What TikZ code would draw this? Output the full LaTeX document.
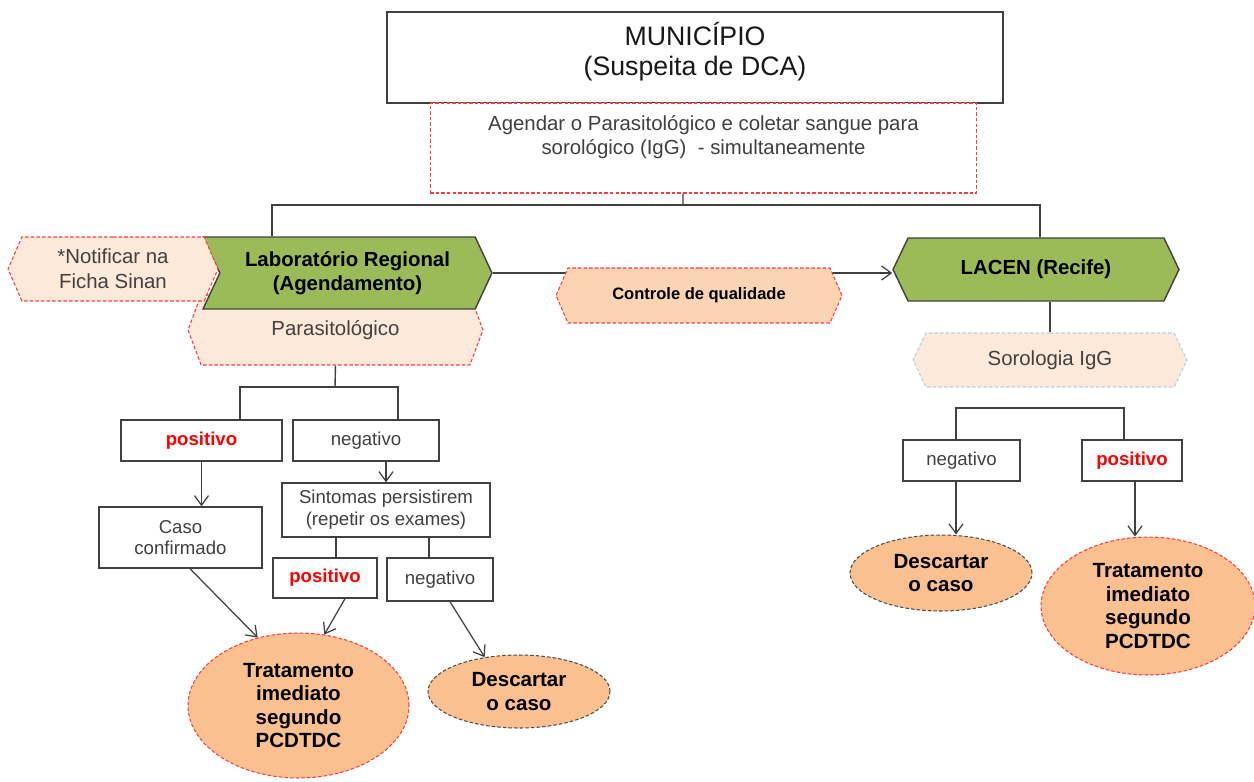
\documentclass[tikz,border=0pt]{standalone}
\usepackage{fontspec}
\setmainfont{Liberation Sans}
\usetikzlibrary{shapes.geometric, shapes.symbols, arrows.meta}

\definecolor{verde}{HTML}{9BBB59}
\definecolor{rosa}{HTML}{FDE9D9}
\definecolor{pessego}{HTML}{FBD4B4}
\definecolor{laranja}{HTML}{FAC090}
\definecolor{cinza}{HTML}{404040}
\definecolor{tracejado}{HTML}{FF3B3B}
\definecolor{azulclaro}{HTML}{B9CDE5}

\begin{document}
\begin{tikzpicture}[x=0.02cm, y=-0.02cm,
    box/.style={draw=black!75, line width=0.8pt, fill=white, text=cinza, align=center, inner sep=0pt, font=\fontsize{10.6}{12.4}\selectfont},
    hexa/.style={shape=signal, signal to=west and east, draw=tracejado, line width=0.6pt, dash pattern=on 2pt off 1.2pt, fill=rosa, text=cinza, align=center, inner sep=0pt, font=\fontsize{11.6}{14}\selectfont},
    lab/.style={shape=signal, draw=black!75, line width=0.8pt, fill=verde, align=center, inner sep=0pt, font=\bfseries\fontsize{11.6}{14}\selectfont},
    oval/.style={ellipse, fill=laranja, line width=0.6pt, dash pattern=on 2pt off 1.2pt, align=center, inner sep=0pt, font=\bfseries\fontsize{11.7}{13.4}\selectfont},
    posit/.style={text=red, font=\bfseries\fontsize{10.6}{12.4}\selectfont},
    arr/.style={-{Straight Barb[length=5.5pt, width=8pt]}, draw=black!75, line width=0.7pt},
    conn/.style={draw=black!75, line width=0.8pt},
]
\useasboundingbox (0,0) rectangle (1254,781);

\node[box, text=black!90, text depth=10pt, minimum width=12.32cm, minimum height=1.82cm, font=\fontsize{15.2}{17}\selectfont] (muni) at (695,57.5) {MUNICÍPIO\\(Suspeita de DCA)};
\node[box, draw=tracejado, line width=0.6pt, dash pattern=on 2pt off 1.2pt, text depth=14.5pt, minimum width=10.94cm, minimum height=1.8cm, font=\fontsize{11.6}{13.6}\selectfont] (agenda) at (703.5,148) {Agendar o Parasitológico e coletar sangue para\\sorológico (IgG) \ - simultaneamente};

\node[hexa, signal pointer angle=139, minimum width=5.9cm, minimum height=1.4cm] (paras) at (335.5,330) {Parasitológico};
\node[lab, signal to=east, signal from=west, signal pointer angle=130, minimum width=5.78cm, minimum height=1.44cm] (labreg) at (347.5,273) {Laboratório Regional\\(Agendamento)};
\node[hexa, signal pointer angle=133, minimum width=4.2cm, minimum height=1.28cm] (notif) at (113,269) {*Notificar na\\Ficha Sinan};
\node[lab, signal to=west and east, signal pointer angle=129, minimum width=5.72cm, minimum height=1.26cm] (lacen) at (1036,269.5) {LACEN (Recife)};

% Laboratorio -> LACEN
\draw[arr] (labreg.east) -- (labreg.east -| lacen.west);
\node[hexa, fill=pessego, text=black, font=\bfseries\fontsize{9.4}{11}\selectfont, signal pointer angle=133, minimum width=5.72cm, minimum height=1.1cm] (controle) at (699,295.5) {Controle de qualidade};
\node[hexa, draw=azulclaro, signal pointer angle=129, minimum width=5.48cm, minimum height=1.08cm] (soro) at (1050,360) {Sorologia IgG};

\node[box, posit, minimum width=3.22cm, minimum height=0.82cm] (pos1) at (201.5,440.5) {positivo};
\node[box, minimum width=2.92cm, minimum height=0.82cm] (neg1) at (366,440.5) {negativo};
\node[box, minimum width=3.26cm, minimum height=1.22cm] (caso) at (180.5,537.5) {Caso\\confirmado};
\node[box, minimum width=4.16cm, minimum height=1.08cm] (sint) at (386,510) {Sintomas persistirem\\(repetir os exames)};
\node[box, posit, minimum width=2.08cm, minimum height=0.8cm] (pos2) at (325,578) {positivo};
\node[box, minimum width=2.12cm, minimum height=0.86cm] (neg2) at (440,579.5) {negativo};
\node[box, minimum width=2.34cm, minimum height=0.82cm] (neg3) at (961.5,460.5) {negativo};
\node[box, posit, minimum width=2.0cm, minimum height=0.82cm] (pos3) at (1132,460.5) {positivo};

\node[oval, draw=tracejado, minimum width=4.42cm, minimum height=2.9cm] (trat1) at (298.5,705.5) {Tratamento\\imediato\\segundo\\PCDTDC};
\node[oval, draw=black!70, minimum width=3.64cm, minimum height=1.46cm] (desc1) at (519,691.5) {Descartar\\o caso};
\node[oval, draw=black!70, minimum width=3.64cm, minimum height=1.52cm] (desc2) at (941,573) {Descartar\\o caso};
\node[oval, draw=tracejado, minimum width=4.28cm, minimum height=2.76cm] (trat2) at (1148,606) {Tratamento\\imediato\\segundo\\PCDTDC};

% Municipio -> laboratorios
\coordinate (split1) at (683,205);
\draw[conn] ([xshift=-0.41cm]agenda.south) -- (split1);
\draw[conn] ([xshift=-1.51cm]labreg.north) |- (split1) -| ([xshift=0.08cm]lacen.north);

% LACEN -> sorologia
\draw[conn] (soro.north |- lacen.south) -- (soro.north);

% Parasitologico -> resultados
\coordinate (split2) at (335,387);
\draw[conn] (paras.south) -- (split2);
\draw[conn] ([xshift=0.77cm]pos1.north) |- (split2) -| ([xshift=0.64cm]neg1.north);
\draw[arr] (pos1.south) -- (pos1.south |- caso.north);
\draw[arr] (sint.north |- neg1.south) -- (sint.north);
\draw[conn] ([xshift=-1cm]sint.south) -- ([xshift=-1cm]sint.south |- pos2.north);
\draw[conn] ([xshift=0.86cm]sint.south) -- ([xshift=0.86cm]sint.south |- neg2.north);
\draw[arr] ([xshift=0.19cm]caso.south) -- (trat1.121);
\draw[arr] ([xshift=0.4cm]pos2.south) -- (trat1.70);
\draw[arr] ([xshift=0.2cm]neg2.south) -- (desc1.135);

% Sorologia -> resultados
\coordinate (split3) at (1040,408);
\draw[conn] ([xshift=-0.11cm]neg3.north) |- (split3) -| ([xshift=-0.16cm]pos3.north);
\draw[arr] ([xshift=-0.11cm]neg3.south) -- ([xshift=-0.11cm]neg3.south |- desc2.north);
\draw[arr] ([xshift=0.06cm]pos3.south) -- ([xshift=0.06cm]pos3.south |- trat2.north);

\end{tikzpicture}
\end{document}
